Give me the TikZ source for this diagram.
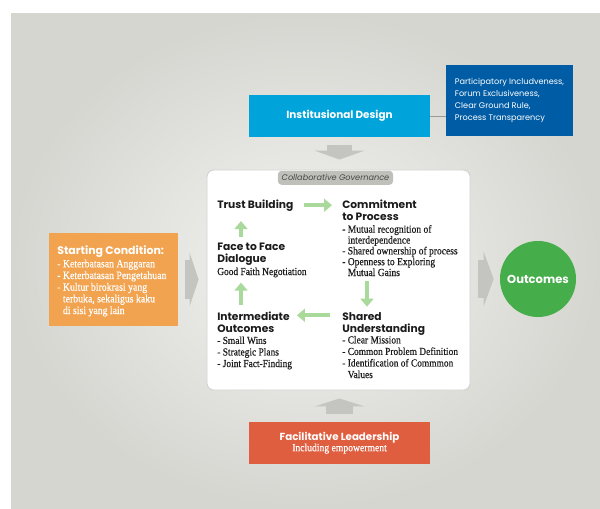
\documentclass[tikz,border=0pt]{standalone}
\usepackage{fontspec}
\setmainfont{Liberation Serif}[FakeStretch=0.88,FakeBold=0.4]
\setsansfont{Poppins}
\usetikzlibrary{arrows.meta,positioning,calc}

\definecolor{instblue}{RGB}{0,163,218}
\definecolor{deepblue}{RGB}{0,92,164}
\definecolor{startorange}{RGB}{242,163,80}
\definecolor{leadred}{RGB}{224,94,64}
\definecolor{outgreen}{RGB}{69,173,73}
\definecolor{flowgreen}{RGB}{170,218,155}
\definecolor{blockgray}{RGB}{196,196,193}
\definecolor{tabgray}{RGB}{192,192,187}
\definecolor{bgedge}{RGB}{214,214,209}
\definecolor{bgmid}{RGB}{242,242,239}
\definecolor{ink}{RGB}{28,28,28}

\begin{document}
\begin{tikzpicture}[
  x=0.025cm,y=-0.025cm,
  font=\sffamily,
  box/.style={inner sep=0pt,minimum width=4.525cm,minimum height=1.05cm,
              align=center,text=white},
  head/.style={font=\sffamily\bfseries\fontsize{7.6}{8.2}\selectfont,text=ink,
               anchor=base west,inner sep=0pt,align=left},
  list/.style={font=\rmfamily\fontsize{7.6}{7.8}\selectfont,text=ink,
               anchor=base west,inner sep=0pt,align=left},
  flow/.style={-{Triangle[length=5.7pt,width=9.2pt]},line width=2.8pt,draw=flowgreen},
  blk/.style={draw=blockgray,line cap=butt}
]

\useasboundingbox (0,0) rectangle (600,508);
\shade[inner color=bgmid,outer color=bgedge] (11,13) rectangle (600,508);

% side boxes
\node[box,fill=instblue,font=\sffamily\bfseries\fontsize{7.4}{8}\selectfont] (inst) at (339.5,116)
  {Institusional Design};
\node[inner sep=0pt,minimum width=3.175cm,minimum height=1.775cm,fill=deepblue,
      text=white,align=left,font=\sffamily\fontsize{5.8}{8.5}\selectfont] (detail) at (509.5,100.5)
  {Participatory Includveness,\\Forum Exclusiveness,\\Clear Ground Rule,\\Process Transparency};
\node[box,fill=leadred,font=\sffamily\bfseries\fontsize{7.3}{8.5}\selectfont] (lead) at (339.5,443)
  {Facilitative Leadership\\[-1pt]{\rmfamily\mdseries\fontsize{7.8}{8}\selectfont Including empowerment}};
\node[inner sep=0pt,minimum width=3.225cm,minimum height=2.325cm,fill=startorange] (start) at (113.5,279.5) {};
\node[font=\sffamily\bfseries\fontsize{7.8}{8.5}\selectfont,text=white,anchor=base west,inner sep=0pt]
  (starttitle) at (57,254) {Starting Condition:};
% multi-line nodes sit on the baseline of their last line
\node[font=\rmfamily\fontsize{7.9}{8.3}\selectfont,text=white,anchor=base west,inner sep=0pt,align=left]
  (startlist) at (57,314)
  {- Keterbatasan Anggaran\\- Keterbatasan Pengetahuan\\- Kultur birokrasi yang\\
   \phantom{- }terbuka, sekaligus kaku\\\phantom{- }di sisi yang lain};
\node[circle,fill=outgreen,minimum size=1.9cm,inner sep=0pt,text=white,
      font=\sffamily\bfseries\fontsize{8.2}{9}\selectfont] (out) at (538,279) {Outcomes};

% collaborative governance panel
\node[fill=white,draw=black!18,line width=0.6pt,rounded corners=5pt,
      minimum width=6.575cm,minimum height=5.5cm] (cg) at (338.5,280) {};
\node[fill=tabgray,rounded corners=2.5pt,anchor=north,minimum width=2.875cm,minimum height=0.35cm,
      inner sep=0pt,text=black!72,font=\sffamily\itshape\fontsize{5.8}{6}\selectfont] (tab)
  at (335.5,170.5) {Collaborative Governance};

\node[head] (trust) at (217,208) {Trust Building};
\node[head] (commit) at (342,220) {Commitment\\to Process};
\node[list,font=\rmfamily\fontsize{7.7}{7.7}\selectfont] (commitlist) at (342,276)
  {- Mutual recognition of\\\phantom{- }interdependence\\- Shared ownership of process\\
   - Openness to Exploring\\\phantom{- }Mutual Gains};
\node[head] (face) at (217,262) {Face to Face\\Dialogue};
\node[list] (faith) at (217,275) {Good Faith Negotiation};
\node[head] (inter) at (217,332) {Intermediate\\Outcomes};
\node[list,font=\rmfamily\fontsize{7.6}{8.2}\selectfont] (interlist) at (217,367)
  {- Small Wins\\- Strategic Plans\\- Joint Fact-Finding};
\node[head] (shared) at (342,332) {Shared\\Understanding};
\node[list,font=\rmfamily\fontsize{7.6}{8.2}\selectfont] (sharedlist) at (342,378)
  {- Clear Mission\\- Common Problem Definition\\- Identification of Commmon\\\phantom{- }Values};

% the cycle
\draw[flow,shorten <=7.1pt,shorten >=7.1pt] (trust.east) -- (trust.east -| commit.west);
\draw[flow,shorten <=3.6pt,shorten >=4pt] ($(commitlist.south west)+(25,0)$) -- ($(shared.north west)+(25,0)$);
\draw[flow,shorten <=8.5pt,shorten >=5pt] ($(shared.north west)+(0,3)$) -- ($(shared.north west -| inter.east)+(0,3)$);
\draw[flow,shorten <=5pt,shorten >=3.6pt] ($(inter.north west)+(24,0)$) -- ($(faith.south west)+(24,0)$);
\draw[flow,shorten <=4.3pt,shorten >=7pt] ($(face.north west)+(24,0)$) -- ($(trust.south west)+(24,0)$);

% block arrows into and out of the panel
\draw[blk,line width=17.8pt,-{Triangle[length=6.4pt,width=35.6pt]},shorten <=5.7pt,shorten >=7.1pt]
  (inst.south) -- (inst.south |- cg.north);
\draw[blk,line width=19pt,-{Triangle[length=5.7pt,width=35.6pt]},shorten <=5.7pt,shorten >=5.7pt]
  (lead.north) -- (lead.north |- cg.south);
\draw[blk,line width=27.7pt,-{Triangle[length=6.4pt,width=38.4pt]},shorten <=5pt,shorten >=5.7pt]
  (start.east) -- (start.east -| cg.west);
\draw[blk,line width=27.7pt,-{Triangle[length=7.1pt,width=38.4pt]},shorten <=5.7pt,shorten >=4.3pt]
  (cg.east |- out.west) -- (out.west);
\draw[black!40,line width=0.7pt] (inst.east) -- (inst.east -| detail.west);

\end{tikzpicture}
\end{document}
